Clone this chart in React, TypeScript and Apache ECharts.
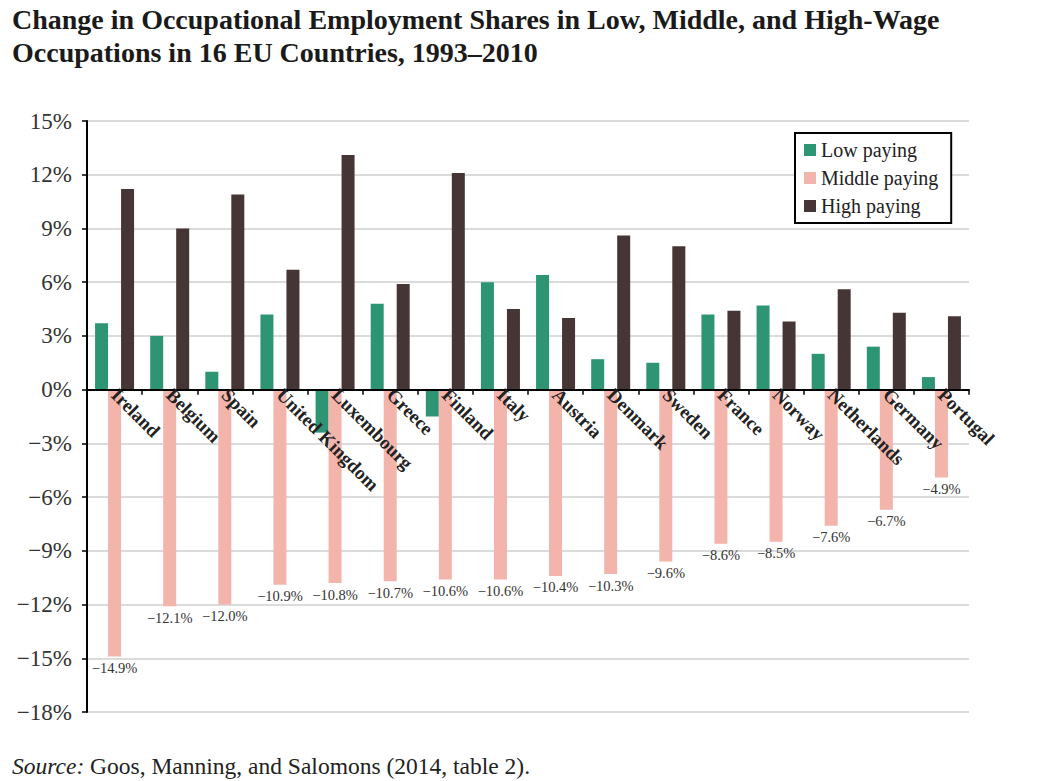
import React, { useEffect, useRef } from "react";
import * as echarts from "echarts";

const countries = [
  "Ireland", "Belgium", "Spain", "United Kingdom", "Luxembourg", "Greece", "Finland", "Italy",
  "Austria", "Denmark", "Sweden", "France", "Norway", "Netherlands", "Germany", "Portugal",
];
const lowPaying = [3.7, 3.0, 1.0, 4.2, -2.4, 4.8, -1.5, 6.0, 6.4, 1.7, 1.5, 4.2, 4.7, 2.0, 2.4, 0.7];
const middlePaying = [-14.9, -12.1, -12.0, -10.9, -10.8, -10.7, -10.6, -10.6, -10.4, -10.3, -9.6, -8.6, -8.5, -7.6, -6.7, -4.9];
const highPaying = [11.2, 9.0, 10.9, 6.7, 13.1, 5.9, 12.1, 4.5, 4.0, 8.6, 8.0, 4.4, 3.8, 5.6, 4.3, 4.1];
const yTicks = { min: -18, max: 15, interval: 3 };

const SERIF = '"Liberation Serif", "DejaVu Serif", "Times New Roman", serif';
const fmtPct = (v: number) => (v < 0 ? "\u2212" + Math.abs(v) : String(v)) + "%";

const GRID_TOP = 121;
const GRID_BOTTOM = 69;
const CHART_H = 781;

export default function App() {
  const ref = useRef<HTMLDivElement>(null);
  useEffect(() => {
    if (!ref.current) return;
    const chart = echarts.init(ref.current, undefined, { renderer: "svg" });
    const plotH = CHART_H - GRID_TOP - GRID_BOTTOM;
    const zeroFromBottom = (plotH * (0 - yTicks.min)) / (yTicks.max - yTicks.min);
    chart.setOption({
      animation: false,
      backgroundColor: "#fff",
      title: [
        {
          text: "Change in Occupational Employment Shares in Low, Middle, and High-Wage\nOccupations in 16 EU Countries, 1993\u20132010",
          left: 12,
          top: 3,
          padding: 0,
          textStyle: {
            fontFamily: SERIF,
            fontWeight: "bold",
            fontSize: 28,
            lineHeight: 33,
            color: "#1a1a1a",
          },
        },
        {
          text: "{i|Source:} Goos, Manning, and Salomons (2014, table 2).",
          left: 12,
          top: 754,
          padding: 0,
          textStyle: {
            fontFamily: SERIF,
            fontWeight: "normal",
            fontSize: 23.5,
            color: "#222",
            rich: {
              i: { fontFamily: SERIF, fontSize: 23.5, fontStyle: "italic", fontWeight: "normal", color: "#222" },
            },
          },
        },
      ],
      legend: {
        orient: "vertical",
        left: 795,
        top: 133,
        padding: [7, 13, 7, 9],
        itemGap: 8,
        itemWidth: 12,
        itemHeight: 12,
        icon: "rect",
        borderColor: "#000",
        borderWidth: 2,
        backgroundColor: "#fff",
        textStyle: { fontFamily: SERIF, fontSize: 20, color: "#222" },
        data: ["Low paying", "Middle paying", "High paying"],
      },
      grid: {
        left: 87,
        right: 70,
        top: GRID_TOP,
        bottom: GRID_BOTTOM,
        containLabel: false,
        outerBoundsMode: "none",
      },
      xAxis: {
        type: "category",
        data: countries,
        offset: -zeroFromBottom,
        z: 10,
        axisLine: { onZero: false, lineStyle: { color: "#000", width: 2 } },
        axisTick: { show: true, length: 5, lineStyle: { color: "#000", width: 1.5 } },
        axisLabel: {
          interval: 0,
          rotate: -45,
          margin: 2,
          fontFamily: SERIF,
          fontWeight: "bold",
          fontSize: 19,
          color: "#222",
        },
        splitLine: { show: false },
      },
      yAxis: {
        type: "value",
        min: yTicks.min,
        max: yTicks.max,
        interval: yTicks.interval,
        axisLine: { show: true, lineStyle: { color: "#000", width: 2 } },
        axisTick: { show: true, length: 5, lineStyle: { color: "#000", width: 1.5 } },
        axisLabel: {
          formatter: (v: number) => fmtPct(v),
          fontFamily: SERIF,
          fontSize: 23,
          color: "#333",
          margin: 15,
        },
        splitLine: { show: true, lineStyle: { color: "#cfcfcf", width: 1.5 } },
      },
      series: [
        {
          name: "Low paying",
          type: "bar",
          data: lowPaying,
          barWidth: 13,
          barGap: "0%",
          itemStyle: { color: "#2e9574" },
        },
        {
          name: "Middle paying",
          type: "bar",
          data: middlePaying,
          barWidth: 13,
          barGap: "0%",
          itemStyle: { color: "#f2b4ab" },
          label: {
            show: true,
            position: "bottom",
            distance: 4,
            formatter: (p: any) => "\u2212" + Math.abs(p.value).toFixed(1) + "%",
            fontFamily: SERIF,
            fontSize: 14.5,
            color: "#333",
          },
        },
        {
          name: "High paying",
          type: "bar",
          data: highPaying,
          barWidth: 13,
          barGap: "0%",
          itemStyle: { color: "#463535" },
        },
      ],
    });
    return () => chart.dispose();
  }, []);
  return (
    <div
      ref={ref}
      style={{ position: "fixed", left: 0, top: 0, width: 1039, height: 781, background: "#fff" }}
    />
  );
}
